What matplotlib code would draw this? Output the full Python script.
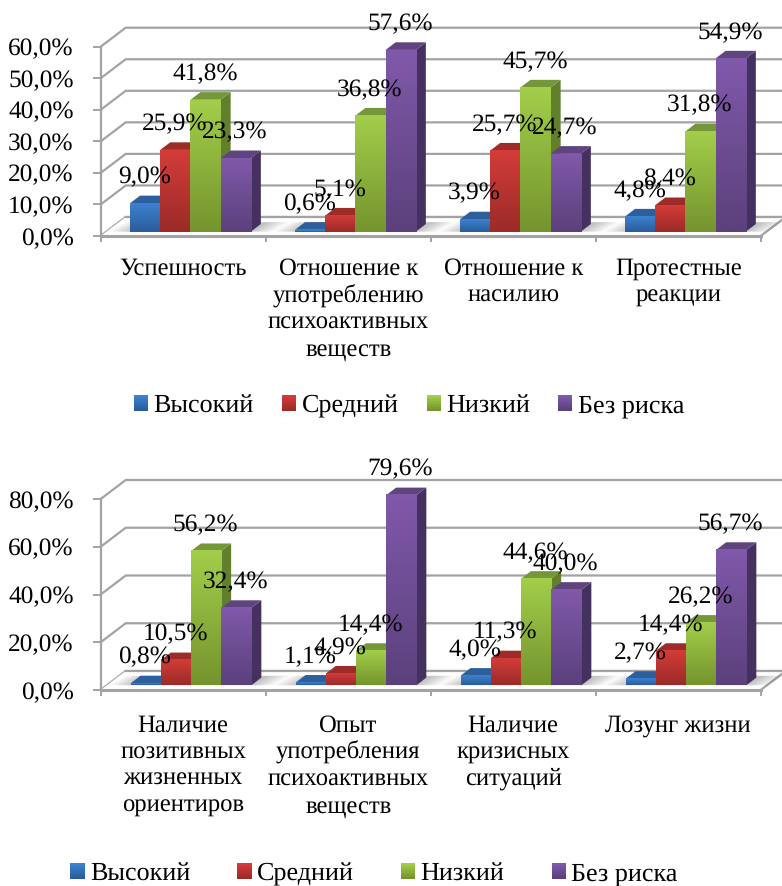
import numpy as np
import matplotlib
matplotlib.use("Agg")
import matplotlib.pyplot as plt
from matplotlib.colors import LinearSegmentedColormap
from matplotlib.legend_handler import HandlerBase
from matplotlib.patches import Patch, Rectangle

plt.rcParams['font.family'] = ['Liberation Serif', 'DejaVu Serif']
plt.rcParams['text.hinting'] = 'none'

levels = ["Высокий", "Средний", "Низкий", "Без риска"]

top_categories = ["Успешность",
                  "Отношение к\nупотреблению\nпсихоактивных\nвеществ",
                  "Отношение к\nнасилию",
                  "Протестные\nреакции"]
top_high = [9.0, 0.6, 3.9, 4.8]
top_mid = [25.9, 5.1, 25.7, 8.4]
top_low = [41.8, 36.8, 45.7, 31.8]
top_none = [23.3, 57.6, 24.7, 54.9]
top_ticks = [0, 10, 20, 30, 40, 50, 60]

bottom_categories = ["Наличие\nпозитивных\nжизненных\nориентиров",
                     "Опыт\nупотребления\nпсихоактивных\nвеществ",
                     "Наличие\nкризисных\nситуаций",
                     "Лозунг жизни"]
bottom_high = [0.8, 1.1, 4.0, 2.7]
bottom_mid = [10.5, 4.9, 11.3, 14.4]
bottom_low = [56.2, 14.4, 44.6, 26.2]
bottom_none = [32.4, 79.6, 40.0, 56.7]
bottom_ticks = [0, 20, 40, 60, 80]

# bottom of front face, top of front face, side face, top face
bar_colors = [("#2b5c99", "#3c82d0", "#25507f", "#2d5f9c"),
              ("#9b2b28", "#d33c39", "#7d2320", "#9d2b28"),
              ("#75942e", "#a2ce4a", "#62802b", "#76963a"),
              ("#5b417c", "#8059aa", "#44315f", "#5f447f")]
GRID = "#a3a3a3"
FS = 18.3
W, H = 782, 886
DEPTH_X, DEPTH_Y = 25.0, 19.0
CAT_PX = 165.0


class GradientSquare(HandlerBase):
    def create_artists(self, legend, orig, xd, yd, w, h, fs, trans):
        low, high = orig.gradient
        cmap = LinearSegmentedColormap.from_list("g", [high, low])
        parts = []
        for i in range(8):
            parts.append(Rectangle((-xd, -yd + h * (7 - i) / 8), w, h / 8 + 0.2,
                                   color=cmap(i / 7), lw=0, transform=trans))
        return parts


def pct(v):
    return f"{v:.1f}%".replace(".", ",")


def draw_chart(front_left, y_zero, y_top, categories, series, ticks, bar_depth, label_pad):
    ax = fig.add_axes([front_left / W, 1 - y_zero / H,
                       4 * CAT_PX / W, (y_zero - y_top) / H])
    ymax = ticks[-1]
    dx = DEPTH_X / CAT_PX
    dy = DEPTH_Y / (y_zero - y_top) * ymax

    def face(points, **kw):
        xs = [p[0] + p[2] * dx for p in points]
        ys = [p[1] + p[2] * dy for p in points]
        ax.fill(xs, ys, clip_on=False, **kw)

    # walls
    for t in ticks:
        ax.plot([0, dx, 4 + dx], [t, t + dy, t + dy], color=GRID, lw=1.6,
                clip_on=False, zorder=1, solid_joinstyle="miter")
    # floor
    face([(0, 0, 0), (4, 0, 0), (4, 0, 1), (0, 0, 1)], facecolor="white",
         edgecolor="none", zorder=1.5)
    ax.plot([dx, 4 + dx, 4], [dy, dy, 0], color=GRID, lw=1.6, clip_on=False, zorder=1.6)

    width = 30.2 / CAT_PX
    start = 0.143
    thick = 0.4
    for c in range(4):
        left = c + start
        right = left + 4 * width
        # soft shadow around the base of each group
        for m in np.linspace(0.13, 0.005, 7):
            face([(left - m, 0, bar_depth), (right + m, 0, bar_depth),
                  (right + m + 0.03, 0, bar_depth + thick + 0.1),
                  (left - m + 0.03, 0, bar_depth + thick + 0.1)],
                 facecolor="black", alpha=0.035, edgecolor="none", zorder=1.7)
        for s, values in enumerate(series):
            v = values[c]
            low, high, side, top = bar_colors[s]
            x0 = left + s * width
            x1 = x0 + width
            d0, d1 = bar_depth, bar_depth + thick
            z = 3 + c + s * 0.1
            face([(x1, 0, d0), (x1, 0, d1), (x1, v, d1), (x1, v, d0)],
                 facecolor=side, edgecolor="none", zorder=z)
            face([(x0, v, d0), (x1, v, d0), (x1, v, d1), (x0, v, d1)],
                 facecolor=top, edgecolor="none", zorder=z)
            cmap = LinearSegmentedColormap.from_list("bar", [low, high])
            xa, xb = x0 + d0 * dx, x1 + d0 * dx
            ya, yb = d0 * dy, v + d0 * dy
            ax.imshow(np.linspace(0, 1, 64)[:, None], origin="lower", cmap=cmap,
                      extent=[xa, xb, ya, yb], aspect="auto", zorder=z + 0.01,
                      clip_on=False, vmin=0, vmax=1)
            ax.annotate(pct(v), ((xa + xb) / 2, yb), xytext=(-0.5, 18.5),
                        textcoords="offset points", ha="center", va="center",
                        fontsize=FS, color="black", zorder=20, annotation_clip=False)

    ax.set_xlim(0, 4)
    ax.set_ylim(0, ymax)
    ax.patch.set_visible(False)
    for name in ("top", "right"):
        ax.spines[name].set_visible(False)
    ax.spines["left"].set_color(GRID)
    ax.spines["left"].set_linewidth(1.6)
    ax.spines["bottom"].set_color(GRID)
    ax.spines["bottom"].set_linewidth(2.2)
    ax.spines["bottom"].set_zorder(2)
    ax.set_yticks(ticks)
    ax.set_yticklabels([pct(t) for t in ticks], fontsize=FS)
    ax.tick_params(axis="y", color=GRID, width=1.4, length=5.5, pad=14)
    ax.set_xticks(range(5))
    ax.set_xticklabels([])
    ax.tick_params(axis="x", which="major", color=GRID, width=1.4, length=4.5)
    ax.set_xticks(np.arange(4) + 0.5, minor=True)
    ax.set_xticklabels(categories, minor=True, fontsize=FS - 0.6, linespacing=1.23)
    ax.tick_params(axis="x", which="minor", length=0, pad=label_pad)
    return ax


def add_legend(ax, center_x, center_y, columnspacing):
    handles = []
    for low, high, _, _ in bar_colors:
        h = Patch(color=high)
        h.gradient = (low, high)
        handles.append(h)
    ax.legend(handles, levels, ncol=4, frameon=False, fontsize=18.85,
              loc="center", bbox_to_anchor=(center_x / W, 1 - center_y / H),
              bbox_transform=fig.transFigure, handler_map={Patch: GradientSquare()},
              handlelength=0.55, handleheight=0.55,
              handletextpad=0.2, columnspacing=columnspacing,
              borderpad=0, borderaxespad=0)


fig = plt.figure(figsize=(W / 100, H / 100), dpi=100)

top_ax = draw_chart(100.7, 236, 46.7, top_categories,
                    [top_high, top_mid, top_low, top_none], top_ticks, 0.23, 15.5)
add_legend(top_ax, 409, 406, 1.07)

bottom_ax = draw_chart(100.7, 690, 499, bottom_categories,
                       [bottom_high, bottom_mid, bottom_low, bottom_none], bottom_ticks, 0.25, 17.5)
add_legend(bottom_ax, 374, 874, 1.8)

fig.savefig("out.png", dpi=100)
